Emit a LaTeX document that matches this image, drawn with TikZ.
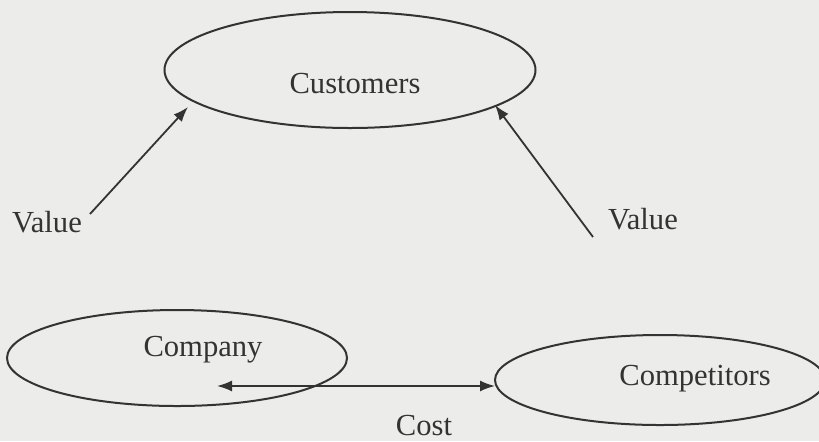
\documentclass[tikz,border=0pt]{standalone}
\usepackage{fontspec}
\setmainfont{Liberation Serif}
\usetikzlibrary{arrows.meta,shapes.geometric}
\definecolor{PaperClr}{rgb}{0.925,0.925,0.918}
\definecolor{InkClr}{rgb}{0.2,0.2,0.2}

\begin{document}
\begin{tikzpicture}[x=0.5pt,y=-0.5pt,
  party/.style={ellipse,draw=InkClr,line width=1pt,inner sep=0pt},
  word/.style={text=InkClr,inner sep=0pt,font=\fontsize{15.3}{18}\selectfont},
  flow/.style={draw=InkClr,line width=0.9pt,-{Latex[length=7.5pt,width=5.5pt]}}]

\fill[PaperClr] (0,0) rectangle (819,441);
\useasboundingbox (0,0) rectangle (819,441);

\node[party,minimum width=185.5pt,minimum height=58pt] (cust) at (350,70) {};
\node[party,minimum width=170pt,minimum height=48pt] (comp) at (177,358) {};
\node[party,minimum width=165pt,minimum height=45pt] (rival) at (660,380) {};

\node[word] (custtxt) at (355,84) {Customers};
\node[word] (comptxt) at (203,350) {Company};
\node[word] (rivaltxt) at (695,379) {Competitors};

\node[word] (valleft) at (47,222) {Value};
\node[word] (valright) at (643,219) {Value};
\node[word] (cost) at (424,426) {Cost};

% arrow ends
\coordinate (vlfoot) at (90,214);
\coordinate (vltip) at (188,107);
\coordinate (vrfoot) at (593,237);
\coordinate (vrtip) at (495,105);
\coordinate (costl) at (217,386);
\coordinate (costr) at (495,386);

\draw[flow] (vlfoot) -- (vltip);
\draw[flow] (vrfoot) -- (vrtip);
\draw[flow,{Latex[length=7.5pt,width=5.5pt]}-{Latex[length=7.5pt,width=5.5pt]}] (costl) -- (costr);

\end{tikzpicture}
\end{document}
